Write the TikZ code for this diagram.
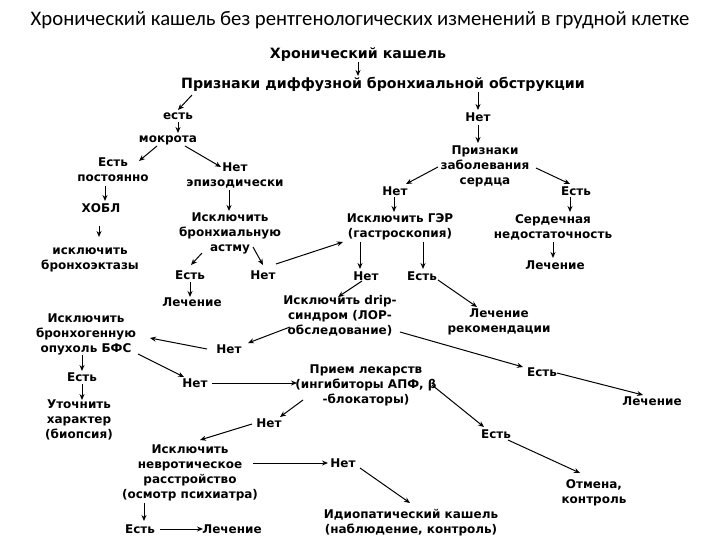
\documentclass[tikz,border=0pt]{standalone}
\usepackage{fontspec}
\setmainfont{DejaVu Sans}
\newfontfamily\titlefont{Carlito}
\usetikzlibrary{arrows.meta,calc}
\begin{document}
\begin{tikzpicture}[x=1pt,y=-1pt,
  box/.style={font=\bfseries\fontsize{12}{15}\selectfont, align=center, inner sep=1pt},
  hdr/.style={font=\bfseries\fontsize{14.2}{16}\selectfont, inner sep=1pt},
  ttl/.style={font=\titlefont\fontsize{20.7}{23}\selectfont, inner sep=1pt},
  arr/.style={-{Stealth[length=6pt,width=5pt]}, line width=1pt}]
\fill[white] (0,0) rectangle (720,540);
\useasboundingbox (0,0) rectangle (720,540);
\node[ttl] (title) at (360,20) {Хронический кашель без рентгенологических изменений в грудной клетке};
\node[hdr] (chk) at (358,55) {Хронический кашель};
\node[hdr] (priz) at (383,84) {Признаки диффузной бронхиальной обструкции};
\node[box] (est1) at (178,116) {есть};
\node[box] (net1) at (478,117) {Нет};
\node[box] (mokr) at (168,140) {мокрота};
\node[box] (estpost) at (113,170) {Есть\\постоянно};
\node[box] (netepiz) at (235,175) {Нет\\эпизодически};
\node[box] (hobl) at (101,208) {ХОБЛ};
\node[box] (bronh) at (90,260) {исключить\\бронхоэктазы};
\node[box] (astma) at (230,233) {Исключить\\бронхиальную\\астму};
\node[box] (estA) at (190,275) {Есть};
\node[box] (netA) at (263,275) {Нет};
\node[box] (lech1) at (192,302) {Лечение};
\node[box] (serd) at (485,166) {Признаки\\заболевания\\сердца};
\node[box] (netS) at (395,191) {Нет};
\node[box] (estS) at (576,191) {Есть};
\node[box] (ger) at (400,227) {Исключить ГЭР\\(гастроскопия)};
\node[box] (sn) at (553,227) {Сердечная\\недостаточность};
\node[box] (lech2) at (555,265) {Лечение};
\node[box] (netG) at (366,276) {Нет};
\node[box] (estG) at (422,276) {Есть};
\node[box] (drip) at (340,316) {Исключить drip-\\синдром (ЛОР-\\обследование)};
\node[box] (lechrek) at (499,322) {Лечение\\рекомендации};
\node[box] (bfs) at (86,334) {Исключить\\бронхогенную\\опухоль БФС};
\node[box] (netD) at (229,349) {Нет};
\node[box] (estB) at (82,377) {Есть};
\node[box] (netB) at (195,383) {Нет};
\node[box] (priem) at (366,385) {Прием лекарств\\(ингибиторы АПФ, β\\-блокаторы)};
\node[box] (estP) at (542,372) {Есть};
\node[box] (lech3) at (652,401) {Лечение};
\node[box] (estU) at (79,420) {Уточнить\\характер\\(биопсия)};
\node[box] (netN) at (269,423) {Нет};
\node[box] (estE) at (496,434) {Есть};
\node[box] (nevr) at (190,473) {Исключить\\невротическое\\расстройство\\(осмотр психиатра)};
\node[box] (netI) at (343,463) {Нет};
\node[box] (otm) at (594,493) {Отмена,\\контроль};
\node[box] (idio) at (411,523) {Идиопатический кашель\\(наблюдение, контроль)};
\node[box] (estL) at (140,529) {Есть};
\node[box] (lechL) at (232,529) {Лечение};
\draw[arr] ($(chk)+(0,7)$) -- ($(priz)+(-25,-8)$);
\draw[arr] ($(priz)+(-191,11)$) -- ($(est1)+(0,-6)$);
\draw[arr] ($(priz)+(95,8)$) -- ($(net1)+(0,-7)$);
\draw[arr] ($(est1)+(0,6)$) -- ($(mokr)+(10,-7)$);
\draw[arr] ($(mokr)+(-11,6)$) -- ($(estpost)+(26,-9)$);
\draw[arr] ($(mokr)+(17,6)$) -- ($(netepiz)+(-14,-8)$);
\draw[arr] ($(estpost)+(-8,16)$) -- ($(hobl)+(4,-7)$);
\draw[arr] ($(hobl)+(-2,18)$) -- ($(bronh)+(9,-23)$);
\draw[arr] ($(netepiz)+(-6,15)$) -- ($(astma)+(-1,-22)$);
\draw[arr] ($(astma)+(-28,20)$) -- ($(estA)+(1,-10)$);
\draw[arr] ($(astma)+(23,14)$) -- ($(netA)+(0,-10)$);
\draw[arr] ($(netA)+(13,-11)$) -- ($(ger)+(-57,15)$);
\draw[arr] ($(estA)+(0,7)$) -- ($(lech1)+(-2,-5)$);
\draw[arr] ($(net1)+(0,8)$) -- ($(serd)+(-7,-23)$);
\draw[arr] ($(serd)+(-47,1)$) -- ($(netS)+(11,-7)$);
\draw[arr] ($(serd)+(51,2)$) -- ($(estS)+(-6,-7)$);
\draw[arr] ($(netS)+(-1,6)$) -- ($(ger)+(-6,-15)$);
\draw[arr] ($(estS)+(-6,6)$) -- ($(sn)+(17,-15)$);
\draw[arr] ($(sn)+(0,15)$) -- ($(lech2)+(-2,-7)$);
\draw[arr] ($(ger)+(-40,15)$) -- ($(netG)+(-6,-7)$);
\draw[arr] ($(ger)+(23,15)$) -- ($(estG)+(1,-7)$);
\draw[arr] ($(netG)+(-4,5)$) -- ($(drip)+(-2,-19)$);
\draw[arr] ($(estG)+(16,4)$) -- ($(lechrek)+(-22,-15)$);
\draw[arr] ($(drip)+(60,16)$) -- ($(estP)+(-19,-5)$);
\draw[arr] ($(estP)+(15,1)$) -- ($(lech3)+(-9,-6)$);
\draw[arr] ($(drip)+(-50,11)$) -- ($(netD)+(19,-6)$);
\draw[arr] ($(netD)+(-22,0)$) -- ($(bfs)+(64,4)$);
\draw[arr] ($(bfs)+(-4,21)$) -- ($(estB)+(0,-6)$);
\draw[arr] ($(bfs)+(52,20)$) -- ($(netB)+(-11,-6)$);
\draw[arr] ($(estB)+(0,7)$) -- ($(estU)+(3,-20)$);
\draw[arr] ($(netB)+(17,0)$) -- ($(priem)+(-69,-2)$);
\draw[arr] ($(priem)+(-63,15)$) -- ($(netN)+(11,-6)$);
\draw[arr] ($(netN)+(-17,1)$) -- ($(nevr)+(10,-33)$);
\draw[arr] ($(priem)+(66,0)$) -- ($(estE)+(-12,-7)$);
\draw[arr] ($(estE)+(12,6)$) -- ($(otm)+(-14,-20)$);
\draw[arr] ($(nevr)+(63,-10)$) -- ($(netI)+(-15,0)$);
\draw[arr] ($(netI)+(17,5)$) -- ($(idio)+(-1,-20)$);
\draw[arr] ($(nevr)+(-46,30)$) -- ($(estL)+(4,-8)$);
\draw[arr] ($(estL)+(20,0)$) -- ($(lechL)+(-29,0)$);
\end{tikzpicture}
\end{document}
